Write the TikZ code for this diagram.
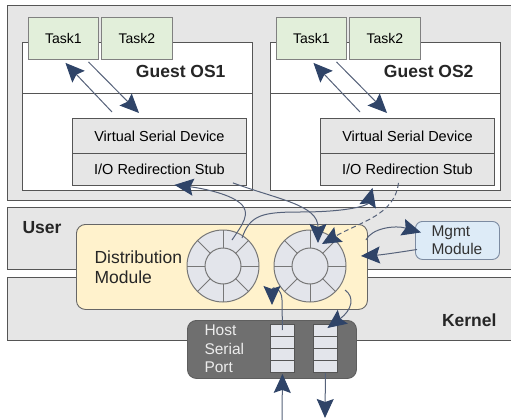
\documentclass[tikz,border=0pt]{standalone}
\usepackage{fontspec}
\setmainfont{Liberation Sans}
\usetikzlibrary{arrows.meta}

\definecolor{panelgray}{HTML}{E6E6E6}
\definecolor{edgegray}{HTML}{555555}
\definecolor{taskgreen}{HTML}{E2EFDA}
\definecolor{distyellow}{HTML}{FFF2CC}
\definecolor{mgmtblue}{HTML}{DDEBF7}
\definecolor{mgmtedge}{HTML}{7C8BA1}
\definecolor{portgray}{HTML}{6F6F6F}
\definecolor{ringfill}{HTML}{E3E5EB}
\definecolor{ringedge}{HTML}{777777}
\definecolor{flowline}{HTML}{56627A}
\definecolor{flowhead}{HTML}{2F4468}

\tikzset{
    box/.style={draw=edgegray, line width=0.9pt, inner sep=0pt, anchor=north west},
    title/.style={font=\fontsize{17.5}{20}\selectfont\bfseries, text=black!85},
    flow/.style={draw=flowline, line width=1pt,
        -{Stealth[length=19pt, width=17pt, inset=3pt, color=flowhead, fill=flowhead]}},
}

\newcommand{\guestos}[3]{%
    \node[box, fill=white, minimum width=230pt, minimum height=148pt] (guest#1) at (#2,42) {};
    \draw[edgegray, line width=0.9pt] ([shift={(0,51)}]guest#1.north west) -- ([shift={(0,51)}]guest#1.north east);
    \node[title, anchor=east] (title#1) at (#2+207,71) {#3};
    \node[box, draw=gray, fill=taskgreen, minimum width=70pt, minimum height=42pt,
        font=\fontsize{14}{16}\selectfont] (taskone#1) at (#2+6,17) {Task1};
    \node[box, draw=gray, fill=taskgreen, minimum width=71pt, minimum height=42pt,
        font=\fontsize{14}{16}\selectfont] (tasktwo#1) at (#2+79,17) {Task2};
    \node[box, fill=panelgray, minimum width=174pt, minimum height=35pt,
        font=\fontsize{14.5}{16}\selectfont] (vsd#1) at (#2+50,118) {Virtual Serial Device};
    \node[box, fill=panelgray, minimum width=174pt, minimum height=32pt,
        font=\fontsize{14.5}{16}\selectfont] (stub#1) at (#2+50,153) {I/O Redirection Stub};
    % task <-> serial device
    \draw[flow] ([shift={(40,-6)}]vsd#1.north west) -- ([shift={(2,3)}]taskone#1.south);
    \draw[flow] ([shift={(25,2)}]taskone#1.south) -- ([shift={(67,-5)}]vsd#1.north west);
}

\newcommand{\ring}[3]{%
    \node[circle, draw=ringedge, fill=ringfill, line width=1pt, minimum size=72pt, inner sep=0pt] (#1) at (#2,#3) {};
    \foreach \a in {0,45,...,315} {
        \draw[ringedge, line width=1pt] (#1.center) ++(\a:18) -- ++(\a:18);
    }
    \draw[ringedge, line width=1pt] (#1.center) circle (18);
}

\newcommand{\buffer}[3]{%
    \node[box, fill=ringfill, minimum width=24pt, minimum height=48pt] (#1) at (#2,#3) {};
    \foreach \k in {1,2,3} {
        \draw[edgegray, line width=0.9pt] ([shift={(0,12*\k)}]#1.north west) -- ([shift={(0,12*\k)}]#1.north east);
    }
}

\begin{document}
\begin{tikzpicture}[x=1pt, y=-1pt]
    \useasboundingbox (0,0) rectangle (511,420);
    % layers
    \node[box, fill=panelgray, line width=1.1pt, minimum width=505pt, minimum height=195pt] (guests) at (7,5) {};
    \node[box, fill=panelgray, line width=1.1pt, minimum width=505pt, minimum height=62pt] (user) at (7,207) {};
    \node[box, fill=panelgray, line width=1.1pt, minimum width=505pt, minimum height=63pt] (kernel) at (7,277) {};
    \node[title, anchor=west] (userlbl) at (19,228) {User};
    \node[title, anchor=east] (kernellbl) at (500,320) {Kernel};

    \guestos{A}{22}{Guest OS1}
    \guestos{B}{270}{Guest OS2}

    % distribution module
    \node[box, draw=edgegray!90, fill=distyellow, rounded corners=9pt, minimum width=291pt, minimum height=85pt] (dist) at (76,224) {};
    \node[anchor=west, align=left, font=\fontsize{17.5}{20}\selectfont, text=black!85] (distlbl) at (91,267) {Distribution\\Module};
    \ring{ringA}{223}{266}
    \ring{ringB}{310}{266}

    \node[box, draw=mgmtedge, fill=mgmtblue, rounded corners=7pt, minimum width=84pt, minimum height=38pt] (mgmt) at (415,221) {};
    \node[anchor=west, align=left, font=\fontsize{15.5}{18}\selectfont, text=black!80] (mgmtlbl) at (428,240) {Mgmt\\Module};

    % host serial port
    \node[box, draw=portgray!85!black, fill=portgray, rounded corners=9pt, minimum width=169pt, minimum height=58pt] (port) at (187,320) {};
    \node[anchor=west, align=left, font=\fontsize{15.5}{18.5}\selectfont, text=gray!15] (portlbl) at (201,349) {Host\\Serial\\Port};
    \buffer{bufA}{270}{324}
    \buffer{bufB}{313}{324}
    \coordinate (inA) at (282,420);
    \coordinate (outB) at (325,418);

    % data paths
    \draw[flow] ([shift={(9,-26)}]ringA.center) .. controls (242,225) and (252,213) .. (240,203)
        .. controls (228,193) and (200,188) .. ([shift={(15,-1)}]stubA.south);
    \draw[flow] ([shift={(-14,-3)}]stubA.south east) .. controls (280,200) and (318,205) .. ([shift={(8,-23)}]ringB.center);
    \draw[flow] ([shift={(19,-28)}]ringA.center) .. controls (250,215) and (262,212) .. (300,212)
        .. controls (350,212) and (368,205) .. ([shift={(-35,2)}]stubB.south);
    \draw[flow, dash pattern=on 5pt off 3pt] ([shift={(-9,-3)}]stubB.south) .. controls (395,215) and (360,222) .. ([shift={(12,-22)}]ringB.center);
    \draw[flow] ([shift={(-2,-27)}]dist.east) .. controls (372,228) and (395,225) .. ([shift={(6,-8)}]mgmt.west);
    \draw[flow] ([shift={(2,9)}]mgmt.west) .. controls (395,253) and (380,255) .. ([shift={(-7,-11)}]dist.east);
    \draw[flow] ([shift={(0,6)}]bufA.north) -- (282,300) .. controls (282,288) and (272,286) .. (272,305);
    \draw[flow] ([shift={(35,24)}]ringB.center) .. controls (355,297) and (352,310) .. ([shift={(2,4)}]bufB.north);
    \draw[flow] (inA) -- ([shift={(0,1)}]bufA.south);
    \draw[flow] (bufB.south) -- (outB);
\end{tikzpicture}
\end{document}
